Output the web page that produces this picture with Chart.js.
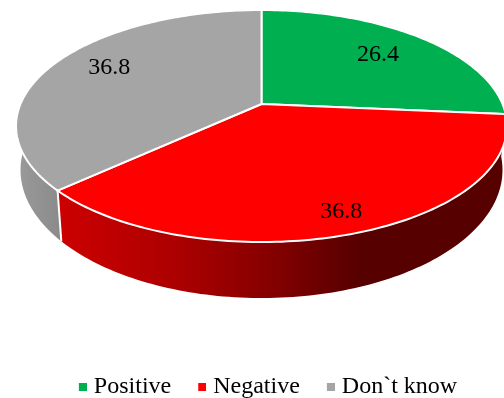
<!DOCTYPE html>
<html>
<head>
<meta charset="utf-8">
<script src="https://cdn.jsdelivr.net/npm/chart.js@4"></script>
<style>
  html, body { margin: 0; background: #fff; }
  canvas { display: block; }
</style>
</head>
<body>
<canvas id="myChart" width="504" height="398"></canvas>
<script>
const categories = ['Positive', 'Negative', 'Don`t know'];
const shares = [26.4, 36.8, 36.8];
const sliceColors = ['#00b050', '#ff0000', '#a5a5a5'];

// where the value text sits inside each slice: fraction of radius, extra turn in degrees
const labelRadius = [0.715, 0.863, 0.755];
const labelTurn = [0, -0.2, 3.2];

// tilted disc: circle coordinates go through a small perspective divide
const hubX = 261.5, tilt = -0.19;
const topHubY = 104, topSpreadX = 241, topSpreadY = 111.8;
const baseHubY = 145.7, baseSpreadX = 236.6, baseSpreadY = 123.4;
const serif = '"Liberation Serif", "Times New Roman", serif';

function project(angle, r, hubY, spreadX, spreadY) {
  const X = Math.cos(angle) * r, Y = Math.sin(angle) * r;
  const w = 1 + tilt * Y;
  return [hubX + spreadX * X / w, hubY + spreadY * Y / w];
}

function topPoint(angle, r = 1) {
  return project(angle, r, topHubY, topSpreadX, topSpreadY);
}

function bottomPoint(angle) {
  return project(angle, 1, baseHubY, baseSpreadX, baseSpreadY);
}

function anglesBetween(start, end) {
  const steps = Math.ceil((end - start) / 0.02);
  const list = [];
  for (let i = 0; i <= steps; i++) list.push(start + (end - start) * i / steps);
  return list;
}

function wallFill(ctx, index) {
  // only the two slices that face the viewer show a side wall
  if (index === 1) {
    const g = ctx.createLinearGradient(60, 0, 360, 0);
    g.addColorStop(0, '#cc0000');
    g.addColorStop(0.37, '#ae0000');
    g.addColorStop(0.7, '#860000');
    g.addColorStop(1, '#560000');
    return g;
  }
  const g = ctx.createLinearGradient(17, 0, 62, 0);
  g.addColorStop(0, '#9a9a9a');
  g.addColorStop(1, '#8a8a8a');
  return g;
}

function drawWall(ctx, arc, index) {
  const steps = anglesBetween(arc.startAngle, arc.endAngle);
  ctx.beginPath();
  steps.forEach((a, i) => {
    const p = topPoint(a);
    if (i === 0) ctx.moveTo(p[0], p[1]); else ctx.lineTo(p[0], p[1]);
  });
  steps.slice().reverse().forEach(a => {
    const p = bottomPoint(a);
    ctx.lineTo(p[0], p[1]);
  });
  ctx.closePath();
  ctx.fillStyle = wallFill(ctx, index);
  ctx.fill();
}

function drawFace(ctx, arc, index) {
  ctx.beginPath();
  ctx.moveTo(hubX, topHubY);
  anglesBetween(arc.startAngle, arc.endAngle).forEach(a => {
    const p = topPoint(a);
    ctx.lineTo(p[0], p[1]);
  });
  ctx.closePath();
  ctx.fillStyle = sliceColors[index];
  ctx.fill();
  ctx.strokeStyle = '#fff';
  ctx.lineWidth = 2;
  ctx.lineJoin = 'round';
  ctx.stroke();
}

// the doughnut controller works out the slice angles, this plugin paints them as a 3D disc
const tiltedPie = {
  id: 'tiltedPie',
  beforeDatasetDraw(chart) {
    const ctx = chart.ctx;
    const arcs = chart.getDatasetMeta(0).data;
    ctx.save();
    [2, 1].forEach(i => drawWall(ctx, arcs[i], i));

    // white seam where the red and grey walls meet
    const seamTop = topPoint(arcs[2].startAngle), seamBottom = bottomPoint(arcs[2].startAngle);
    ctx.beginPath();
    ctx.moveTo(seamTop[0], seamTop[1]);
    ctx.lineTo(seamBottom[0], seamBottom[1]);
    ctx.strokeStyle = '#fff';
    ctx.lineWidth = 2;
    ctx.stroke();

    arcs.forEach((arc, i) => drawFace(ctx, arc, i));

    ctx.fillStyle = '#000';
    ctx.font = '24px ' + serif;
    ctx.textAlign = 'center';
    ctx.textBaseline = 'middle';
    arcs.forEach((arc, i) => {
      const mid = (arc.startAngle + arc.endAngle) / 2 + labelTurn[i] * Math.PI / 180;
      const p = topPoint(mid, labelRadius[i]);
      ctx.fillText(shares[i].toFixed(1), p[0], p[1]);
    });
    ctx.restore();
    return false;
  }
};

// small square, offset inside its canvas so it sits close to the legend text
function legendMarker(color) {
  const c = document.createElement('canvas');
  c.width = 13;
  c.height = 8;
  const g = c.getContext('2d');
  g.fillStyle = color;
  g.fillRect(5, 0, 8, 8);
  return c;
}

const ctx = document.getElementById('myChart').getContext('2d');
const myChart = new Chart(ctx, {
  type: 'pie',
  data: {
    labels: categories,
    datasets: [{
      data: shares,
      backgroundColor: sliceColors
    }]
  },
  plugins: [tiltedPie],
  options: {
    responsive: false,
    animation: false,
    layout: { padding: { left: 32, bottom: -11 } },
    plugins: {
      tooltip: { enabled: false },
      legend: {
        position: 'bottom',
        labels: {
          usePointStyle: true,
          pointStyleWidth: 3,
          boxHeight: 8,
          padding: 27,
          color: '#000',
          font: { family: serif, size: 24 },
          generateLabels(chart) {
            return Chart.overrides.pie.plugins.legend.labels.generateLabels(chart).map((item, i) => {
              item.pointStyle = legendMarker(sliceColors[i]);
              item.lineWidth = 0;
              return item;
            });
          }
        }
      }
    }
  }
});
</script>
</body>
</html>
